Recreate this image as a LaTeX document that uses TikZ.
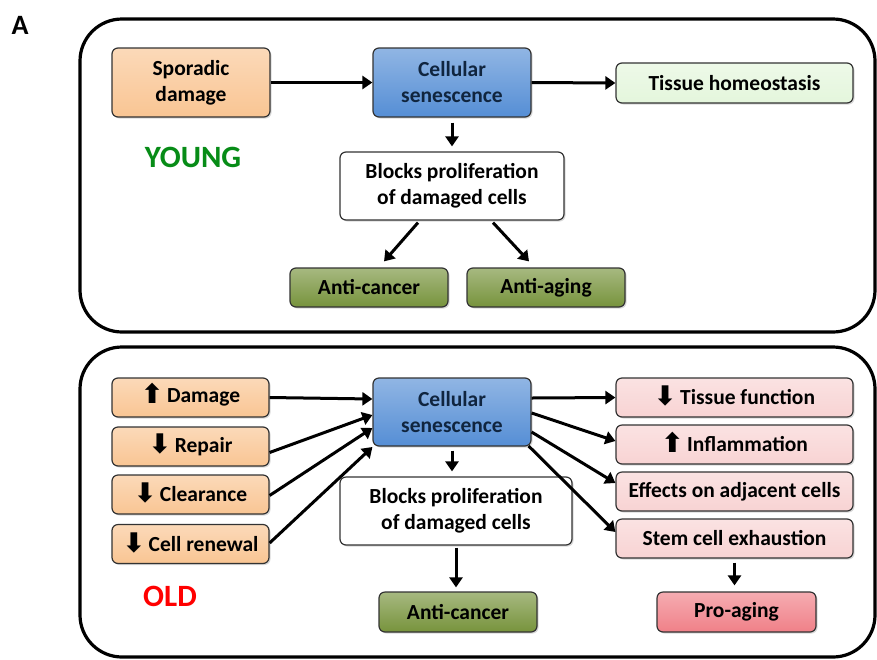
\documentclass[tikz,border=0pt]{standalone}
\usepackage{fontspec}
\setmainfont{Carlito}
\newfontfamily\symfont{DejaVu Sans}
\usetikzlibrary{arrows.meta,calc,shadows}
\definecolor{peach}{HTML}{F9C593}
\definecolor{senblue}{HTML}{558ED5}
\definecolor{homeo}{HTML}{E4F6DC}
\definecolor{olive}{HTML}{77933C}
\definecolor{pinkbox}{HTML}{F8D3D3}
\definecolor{proaging}{HTML}{F08088}
\definecolor{navy}{HTML}{10253F}
\definecolor{younggreen}{HTML}{078C17}
\newcommand{\upar}{\smash{\raisebox{-1pt}{\symfont\fontsize{27}{26}\selectfont ⬆}}\,}
\newcommand{\downar}{\smash{\raisebox{-1pt}{\symfont\fontsize{27}{26}\selectfont ⬇}}\,}
\begin{document}
\begin{tikzpicture}[x=1pt,y=-1pt,
  box/.style={rectangle,rounded corners=6pt,draw=black!80,line width=1.2pt,
    align=center,font=\fontsize{21.5}{26}\selectfont\bfseries,inner sep=2pt,
    drop shadow={shadow xshift=1.5pt,shadow yshift=-1.5pt,opacity=0.3}},
  filled/.style={box,top color=#1!65!white,bottom color=#1},
  panel/.style={rounded corners=42pt,line width=3.2pt,draw=black},
  conn/.style={line width=3pt,-{Triangle[length=10pt,width=13pt]}},
  tag/.style={font=\fontsize{31}{36}\selectfont\bfseries}]
\useasboundingbox (0,0) rectangle (877,659);
\fill[white] (0,0) rectangle (877,659);
\node[font=\fontsize{28}{32}\selectfont\bfseries] (lab) at (20,25) {A};
% panels
\draw[panel] (80,19) rectangle (875,332);
\draw[panel] (80,347) rectangle (875,657);
% ---------- YOUNG ----------
\node[filled=peach,minimum width=158pt,minimum height=69pt] (spor) at (191,82.5) {Sporadic\\damage};
\node[filled=senblue,minimum width=158pt,minimum height=69pt,text=navy] (sen1) at (452,82.5) {Cellular\\senescence};
\node[filled=homeo,minimum width=237pt,minimum height=40pt] (tis) at (734.5,83) {Tissue homeostasis};
\node[box,fill=white,minimum width=224pt,minimum height=68pt] (blk1) at (452,186) {Blocks proliferation\\of damaged cells};
\node[filled=olive,minimum width=158pt,minimum height=39pt] (ac1) at (369,287.5) {Anti-cancer};
\node[filled=olive,minimum width=158pt,minimum height=39pt] (aa1) at (546,287.5) {Anti-aging};
\node[tag,text=younggreen] (young) at (193,157) {YOUNG};
\draw[conn] (spor.east) -- (sen1.west);
\draw[conn] (sen1.east) -- (tis.west);
\draw[conn,shorten <=5pt,shorten >=5pt] (sen1.south) -- (blk1.north);
\draw[conn] ($(blk1.south)+(-34,2)$) -- ($(ac1.north)+(15,-6)$);
\draw[conn] ($(blk1.south)+(41,2)$) -- ($(aa1.north)+(-17,-6)$);
% ---------- OLD ----------
\node[filled=peach,minimum width=157pt,minimum height=39pt] (dmg) at (190.5,397.5) {\upar Damage};
\node[filled=peach,minimum width=157pt,minimum height=39pt] (rep) at (190.5,446.5) {\downar Repair};
\node[filled=peach,minimum width=157pt,minimum height=39pt] (clr) at (190.5,494.5) {\downar Clearance};
\node[filled=peach,minimum width=157pt,minimum height=39pt] (ren) at (190.5,544) {\downar Cell renewal};
\node[filled=senblue,minimum width=158pt,minimum height=68pt,text=navy] (sen2) at (452,412) {Cellular\\senescence};
\node[box,fill=white,minimum width=232pt,minimum height=68pt] (blk2) at (456,511) {Blocks proliferation\\of damaged cells};
\node[filled=olive,minimum width=158pt,minimum height=40pt] (ac2) at (458,612) {Anti-cancer};
\node[filled=pinkbox,minimum width=237pt,minimum height=39pt] (tf) at (734.5,397.5) {\downar Tissue function};
\node[filled=pinkbox,minimum width=237pt,minimum height=39pt] (inf) at (734.5,444.5) {\upar Inflammation};
\node[filled=pinkbox,minimum width=237pt,minimum height=39pt] (eff) at (734.5,491.5) {Effects on adjacent cells};
\node[filled=pinkbox,minimum width=237pt,minimum height=39pt] (stem) at (734.5,538.5) {Stem cell exhaustion};
\node[filled=proaging,minimum width=159pt,minimum height=40pt] (pro) at (736.5,612) {Pro-aging};
\node[tag,text=red] (old) at (170,596) {OLD};
\draw[conn] (dmg.east) -- ($(sen2.west)+(0,-13)$);
\draw[conn] ($(rep.east)+(0,6)$) -- ($(sen2.west)+(0,3)$);
\draw[conn] ($(clr.east)+(0,1)$) -- ($(sen2.west)+(0,16)$);
\draw[conn] ($(ren.east)+(0,-1)$) -- ($(sen2.west)+(0,35)$);
\draw[conn] ($(sen2.east)+(0,-14)$) -- (tf.west);
\draw[conn] ($(sen2.east)+(0,1)$) -- ($(inf.west)+(0,-3.5)$);
\draw[conn] ($(sen2.east)+(0,20)$) -- ($(eff.west)+(0,-8.5)$);
\draw[conn] ($(sen2.east)+(-3,34)$) -- ($(stem.west)+(0,-6.5)$);
\draw[conn,shorten <=4pt,shorten >=5pt] (sen2.south) -- (sen2.south |- blk2.north);
\draw[conn,shorten <=2pt,shorten >=4pt] (blk2.south) -- (blk2.south |- ac2.north);
\draw[conn,shorten <=4pt,shorten >=6pt] (stem.south) -- (stem.south |- pro.north);
\end{tikzpicture}
\end{document}
